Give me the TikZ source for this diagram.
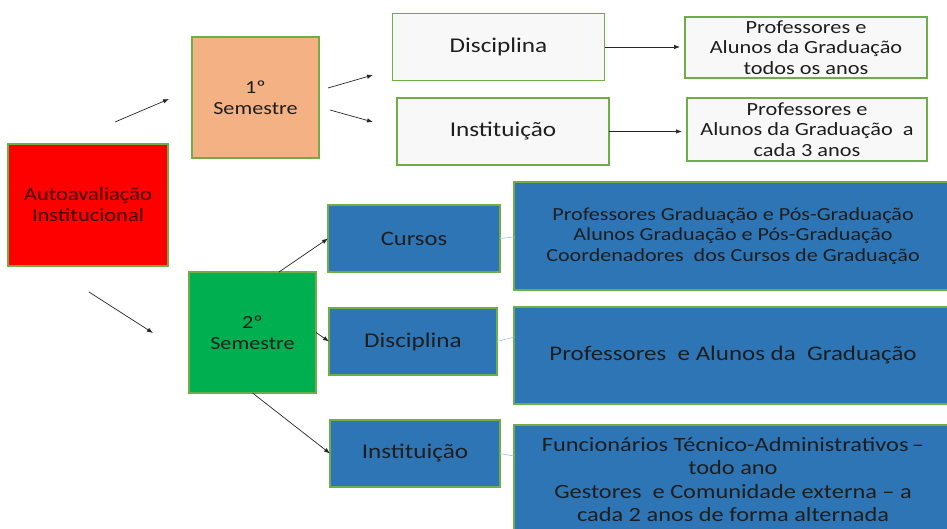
\documentclass[tikz,border=0pt]{standalone}
\usepackage{fontspec}
\setmainfont{Carlito}[FakeStretch=1.2]
\usetikzlibrary{arrows.meta}
\definecolor{bord}{HTML}{70AD47}
\definecolor{redf}{HTML}{FF0000}
\definecolor{peach}{HTML}{F4B183}
\definecolor{greenf}{HTML}{00B050}
\definecolor{bluef}{HTML}{2E75B6}
\definecolor{whitef}{HTML}{F8F8F8}
\definecolor{txt}{HTML}{1E1E1E}
\definecolor{redtxt}{HTML}{3A0606}
\definecolor{faint}{HTML}{9DC3E6}
\begin{document}
\begin{tikzpicture}[x=1pt,y=-1pt,
  box/.style={draw=bord, line width=1.2pt, align=center, inner sep=2pt, outer sep=0pt, text=txt, font=\fontsize{18}{20}\selectfont},
  wbox/.style={box, fill=whitef},
  bbox/.style={box, fill=bluef},
  arr/.style={-{Latex[length=6pt,width=4.5pt]}, line width=0.7pt, draw=black!85},
  thin/.style={draw=faint, line width=0.6pt}
]
\useasboundingbox (0,0) rectangle (947,529);
\clip (0,0) rectangle (947,529);
% left and semester boxes
\node[box, fill=redf, text=redtxt, minimum width=160pt, minimum height=122pt, font=\fontsize{18.7}{21}\selectfont] (auto) at (88,205) {Autoavaliação\\Institucional};
\node[box, fill=peach, minimum width=127pt, minimum height=121pt, font=\fontsize{18.5}{21}\selectfont] (sem1) at (255.5,97.5) {1º\\Semestre};
\node[box, fill=greenf, minimum width=127pt, minimum height=121pt, font=\fontsize{18.5}{21}\selectfont] (sem2) at (252.5,332.5) {2º\\Semestre};
% first semester branch
\node[wbox, minimum width=212pt, minimum height=67pt, font=\fontsize{21}{24}\selectfont] (disc1) at (498.5,47) {Disciplina};
\node[wbox, minimum width=212pt, minimum height=67pt, font=\fontsize{21}{24}\selectfont] (inst1) at (503,131.5) {Instituição};
\node[wbox, minimum width=242pt, minimum height=61pt, font=\fontsize{18.6}{20.5}\selectfont] (p1) at (806,47.5) {Professores e\\Alunos da Graduação\\todos os anos};
\node[wbox, minimum width=240pt, minimum height=63pt, font=\fontsize{18.6}{20.5}\selectfont] (p2) at (807,129.5) {Professores e\\Alunos da Graduação\ \ a\\cada 3 anos};
% second semester branch
\node[bbox, minimum width=172pt, minimum height=67pt, font=\fontsize{20.5}{24}\selectfont] (cursos) at (414,238.5) {Cursos};
\node[bbox, minimum width=168pt, minimum height=67pt, font=\fontsize{21}{24}\selectfont] (disc2) at (413,341.5) {Disciplina};
\node[bbox, minimum width=170pt, minimum height=67pt, font=\fontsize{21}{24}\selectfont] (inst2) at (415,453.5) {Instituição};
\node[bbox, minimum width=438pt, minimum height=108pt, font=\fontsize{18.4}{20.5}\selectfont] (big1) at (733,236) {Professores Graduação e Pós-Graduação\\Alunos Graduação e Pós-Graduação\\Coordenadores\ \ dos Cursos de Graduação};
\node[bbox, minimum width=438pt, minimum height=97pt, font=\fontsize{20.8}{24}\selectfont] (big2) at (733,355.5) {Professores\ \ e Alunos da\ \ Graduação};
\node[bbox, minimum width=438pt, minimum height=109pt, font=\fontsize{20.3}{23.2}\selectfont] (big3) at (733,479.5) {Funcionários Técnico-Administrativos\,–\\todo ano\\Gestores\ \ e Comunidade externa – a\\cada 2 anos de forma alternada};
% free arrow ends
\coordinate (a1s) at (115,122);
\coordinate (a1e) at (169,99);
\coordinate (a2s) at (328,88);
\coordinate (a2e) at (373,75);
\coordinate (a3s) at (330,110);
\coordinate (a3e) at (373,122);
\coordinate (a4s) at (89,292);
\coordinate (a4e) at (153,333);
\draw[arr] (a1s) -- (a1e);
\draw[arr] (a2s) -- (a2e);
\draw[arr] (a3s) -- (a3e);
\draw[arr] (a4s) -- (a4e);
\draw[arr, shorten >=5pt] (disc1.east) -- (disc1.east -| p1.west);
\draw[arr, shorten >=5pt] (inst1.east) -- (inst1.east -| p2.west);
\draw[arr] ([xshift=26.5pt]sem2.north) -- (cursos.west);
\draw[arr] (sem2.east) -- (disc2.west);
\draw[arr] (sem2.south) -- (inst2.west);
\draw[thin] (cursos.east) -- ([yshift=1.5pt]cursos.east -| big1.west);
\draw[thin] (disc2.east) -- ([yshift=4.5pt]disc2.east -| big2.west);
\draw[thin] (inst2.east) -- ([yshift=-2.5pt]inst2.east -| big3.west);
\end{tikzpicture}
\end{document}
